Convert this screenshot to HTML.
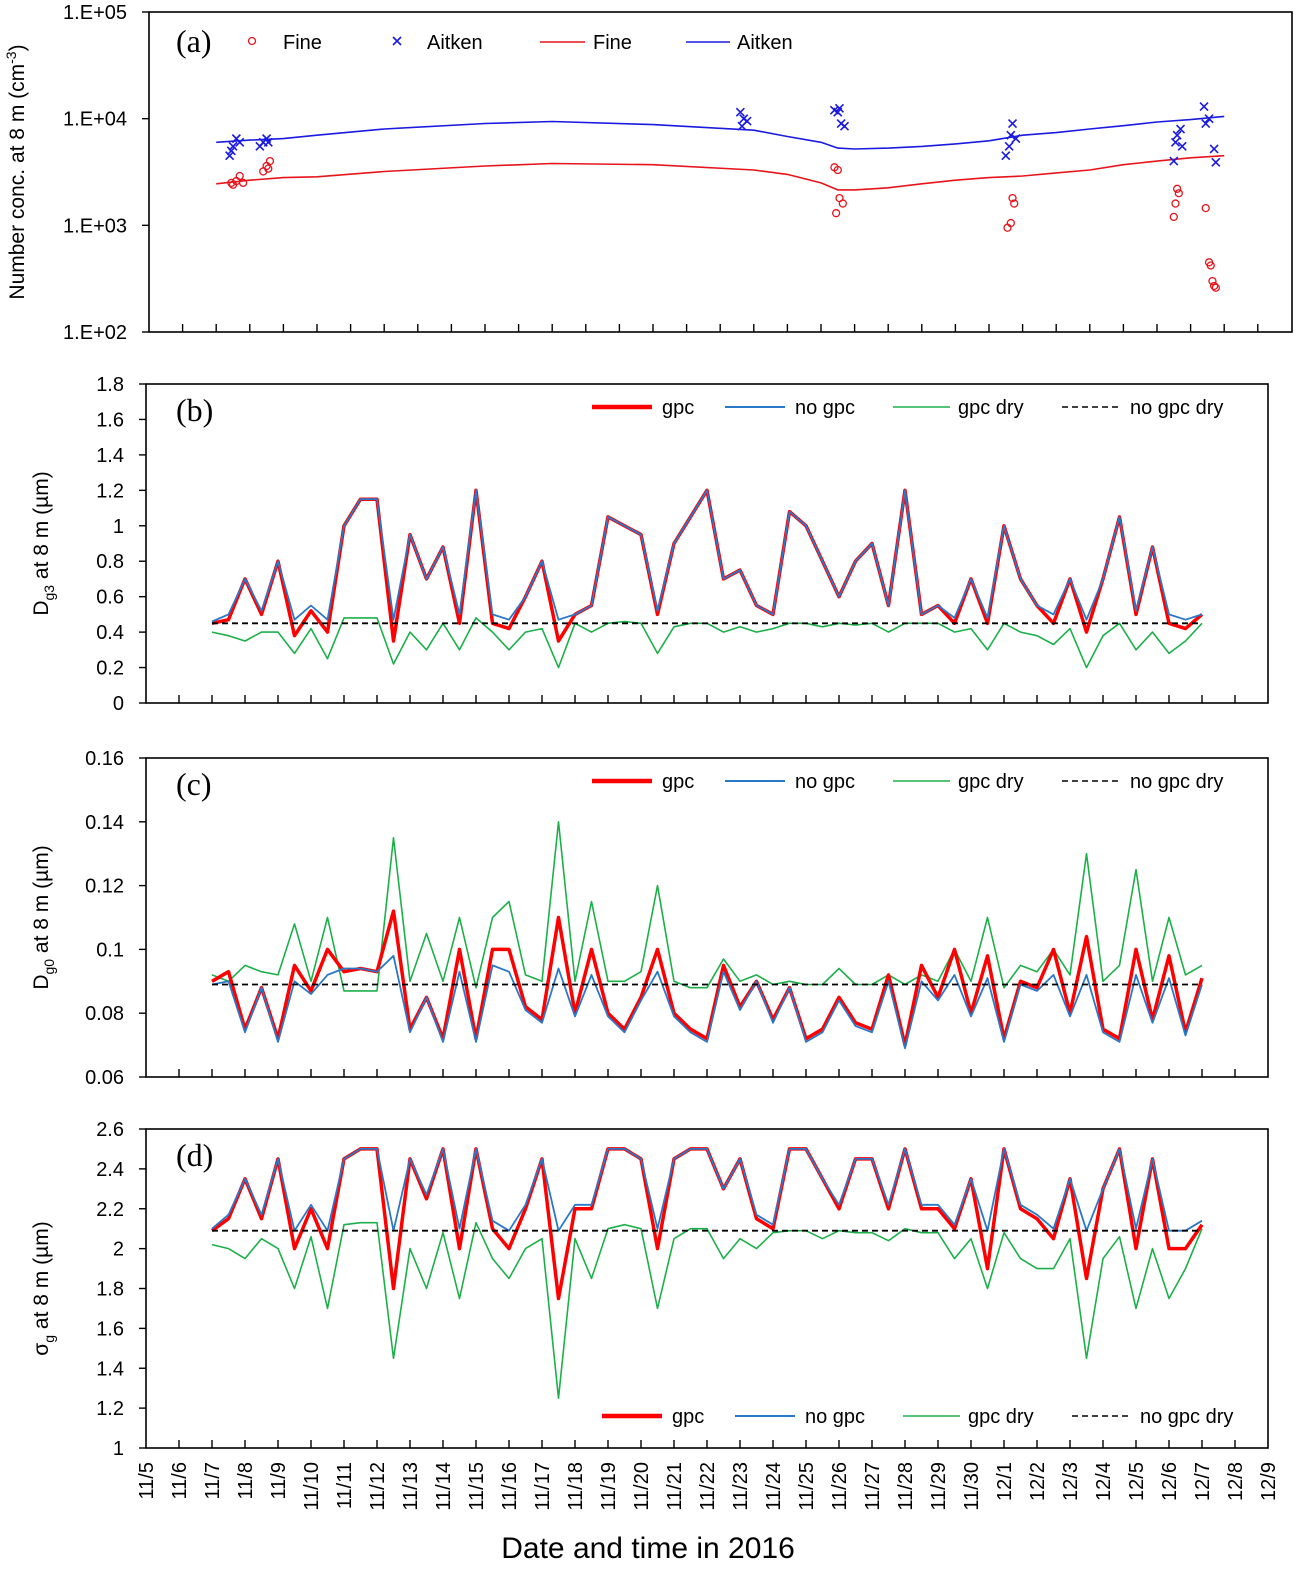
<!DOCTYPE html>
<html><head><meta charset="utf-8"><style>
body{margin:0;background:#fff;}
svg text{font-family:"Liberation Sans",sans-serif;fill:#000;}
</style></head><body>
<svg id="chart" width="1296" height="1568" viewBox="0 0 1296 1568" xmlns="http://www.w3.org/2000/svg"></svg>
<script>
// ---------- data ----------
const tGrid=[0,0.5,1,1.5,2,2.5,3,3.5,4,4.5,5,5.5,6,6.5,7,7.5,8,8.5,9,9.5,10,10.5,11,11.5,12,12.5,13,13.5,14,14.5,15,15.5,16,16.5,17,17.5,18,18.5,19,19.5,20,20.5,21,21.5,22,22.5,23,23.5,24,24.5,25,25.5,26,26.5,27,27.5,28,28.5,29,29.5,30];
const xDates=["11/5","11/6","11/7","11/8","11/9","11/10","11/11","11/12","11/13","11/14","11/15","11/16","11/17","11/18","11/19","11/20","11/21","11/22","11/23","11/24","11/25","11/26","11/27","11/28","11/29","11/30","12/1","12/2","12/3","12/4","12/5","12/6","12/7","12/8","12/9"];
// panel a
const aLineT=[0,1,2,3,5,8,10,13,16,17,18,18.5,19,20,21,22,23,24,25,26,27,28,29,30];
const aFine=[2450,2650,2800,2850,3200,3600,3800,3700,3300,3000,2500,2150,2150,2250,2450,2650,2800,2900,3100,3300,3700,4000,4300,4500];
const aAitken=[6000,6300,6500,7000,8000,9000,9400,8800,7800,6800,6000,5300,5200,5300,5500,5800,6200,7000,7400,8000,8600,9300,9800,10500];
const fineObsT=[0.45,0.5,0.6,0.7,0.8,1.4,1.5,1.55,1.6,18.4,18.5,18.45,18.55,18.65,23.55,23.65,23.7,23.75,28.5,28.55,28.6,28.65,29.45,29.55,29.6,29.65,29.7,29.75];
const fineObs=[2500,2400,2600,2900,2500,3200,3600,3400,4000,3500,3300,1300,1800,1600,950,1050,1800,1600,1200,1600,2200,2000,1450,450,420,300,270,260];
const aitObsT=[0.4,0.45,0.5,0.6,0.7,1.3,1.4,1.5,1.55,15.6,15.7,15.8,15.65,18.4,18.5,18.55,18.6,18.7,23.5,23.6,23.65,23.7,23.8,28.5,28.55,28.6,28.7,28.75,29.4,29.45,29.55,29.7,29.75];
const aitObs=[4500,5000,5500,6500,6000,5500,6000,6500,6000,11500,10000,9500,8500,12000,11500,12500,9000,8500,4500,5500,7000,9000,6500,4000,6000,7000,8000,5500,13000,9000,10000,5200,3900];
// panel b
const bGpc=[0.45,0.47,0.7,0.5,0.8,0.38,0.52,0.4,1.0,1.15,1.15,0.35,0.95,0.7,0.88,0.45,1.2,0.45,0.42,0.6,0.8,0.35,0.5,0.55,1.05,1.0,0.95,0.5,0.9,1.05,1.2,0.7,0.75,0.55,0.5,1.08,1.0,0.8,0.6,0.8,0.9,0.55,1.2,0.5,0.55,0.45,0.7,0.45,1.0,0.7,0.55,0.45,0.7,0.4,0.7,1.05,0.5,0.88,0.45,0.42,0.5];
const bNoGpc=[0.46,0.5,0.7,0.52,0.8,0.47,0.55,0.47,1.0,1.15,1.15,0.47,0.95,0.7,0.88,0.5,1.2,0.5,0.47,0.6,0.8,0.47,0.5,0.55,1.05,1.0,0.95,0.52,0.9,1.05,1.2,0.7,0.75,0.55,0.5,1.08,1.0,0.8,0.6,0.8,0.9,0.55,1.2,0.5,0.55,0.48,0.7,0.48,1.0,0.7,0.55,0.5,0.7,0.47,0.7,1.05,0.52,0.88,0.5,0.47,0.5];
const bDry=[0.4,0.38,0.35,0.4,0.4,0.28,0.42,0.25,0.48,0.48,0.48,0.22,0.4,0.3,0.45,0.3,0.48,0.4,0.3,0.4,0.42,0.2,0.45,0.4,0.45,0.46,0.45,0.28,0.43,0.45,0.45,0.4,0.43,0.4,0.42,0.45,0.45,0.43,0.45,0.44,0.45,0.4,0.45,0.45,0.45,0.4,0.42,0.3,0.45,0.4,0.38,0.33,0.42,0.2,0.38,0.45,0.3,0.4,0.28,0.35,0.45];
const flatT=[0,30];
const bNoGpcDry=[0.45,0.45];
// panel c
const cGpc=[0.09,0.093,0.075,0.088,0.072,0.095,0.087,0.1,0.093,0.094,0.093,0.112,0.075,0.085,0.072,0.1,0.072,0.1,0.1,0.082,0.078,0.11,0.08,0.1,0.08,0.075,0.085,0.1,0.08,0.075,0.072,0.095,0.082,0.09,0.078,0.088,0.072,0.075,0.085,0.077,0.075,0.092,0.07,0.095,0.085,0.1,0.08,0.098,0.072,0.09,0.088,0.1,0.08,0.104,0.075,0.072,0.1,0.078,0.098,0.074,0.091];
const cNoGpc=[0.089,0.09,0.074,0.088,0.071,0.09,0.086,0.092,0.094,0.094,0.093,0.098,0.074,0.085,0.071,0.093,0.071,0.095,0.093,0.081,0.077,0.094,0.079,0.092,0.079,0.074,0.084,0.093,0.079,0.074,0.071,0.093,0.081,0.09,0.077,0.088,0.071,0.074,0.084,0.076,0.074,0.09,0.069,0.09,0.084,0.092,0.079,0.091,0.071,0.089,0.087,0.092,0.079,0.092,0.074,0.071,0.092,0.077,0.091,0.073,0.089];
const cDry=[0.092,0.09,0.095,0.093,0.092,0.108,0.09,0.11,0.087,0.087,0.087,0.135,0.09,0.105,0.09,0.11,0.088,0.11,0.115,0.092,0.09,0.14,0.09,0.115,0.09,0.09,0.093,0.12,0.09,0.088,0.088,0.097,0.09,0.092,0.089,0.09,0.089,0.089,0.094,0.089,0.089,0.092,0.089,0.092,0.09,0.1,0.09,0.11,0.088,0.095,0.093,0.1,0.092,0.13,0.09,0.095,0.125,0.09,0.11,0.092,0.095];
const cNoGpcDry=[0.089,0.089];
// panel d
const dGpc=[2.09,2.15,2.35,2.15,2.45,2.0,2.2,2.0,2.45,2.5,2.5,1.8,2.45,2.25,2.5,2.0,2.5,2.1,2.0,2.2,2.45,1.75,2.2,2.2,2.5,2.5,2.45,2.0,2.45,2.5,2.5,2.3,2.45,2.15,2.1,2.5,2.5,2.35,2.2,2.45,2.45,2.2,2.5,2.2,2.2,2.1,2.35,1.9,2.5,2.2,2.15,2.05,2.35,1.85,2.3,2.5,2.0,2.45,2.0,2.0,2.12];
const dNoGpc=[2.1,2.17,2.35,2.17,2.45,2.09,2.22,2.09,2.45,2.5,2.5,2.09,2.45,2.27,2.5,2.1,2.5,2.14,2.09,2.22,2.45,2.09,2.22,2.22,2.5,2.5,2.45,2.1,2.45,2.5,2.5,2.3,2.45,2.17,2.12,2.5,2.5,2.35,2.22,2.45,2.45,2.22,2.5,2.22,2.22,2.12,2.35,2.09,2.5,2.22,2.17,2.1,2.35,2.09,2.3,2.5,2.1,2.45,2.09,2.09,2.14];
const dDry=[2.02,2.0,1.95,2.05,2.0,1.8,2.06,1.7,2.12,2.13,2.13,1.45,2.0,1.8,2.08,1.75,2.13,1.95,1.85,2.0,2.05,1.25,2.05,1.85,2.1,2.12,2.1,1.7,2.05,2.1,2.1,1.95,2.05,2.0,2.08,2.09,2.09,2.05,2.09,2.08,2.08,2.04,2.1,2.08,2.08,1.95,2.05,1.8,2.08,1.95,1.9,1.9,2.05,1.45,1.95,2.06,1.7,2.0,1.75,1.9,2.1];
const dNoGpcDry=[2.09,2.09];
const bTicks=[0,0.2,0.4,0.6,0.8,1,1.2,1.4,1.6,1.8];
const cTicks=[0.06,0.08,0.1,0.12,0.14,0.16];
const dTicks=[1,1.2,1.4,1.6,1.8,2,2.2,2.4,2.6];
const aTicks=[100,1000,10000,100000];
const aTickLabels=["1.E+02","1.E+03","1.E+04","1.E+05"];

// ---------- drawing ----------
const NS="http://www.w3.org/2000/svg";
const svg=document.getElementById('chart');
function mk(tag,attrs,parent){const e=document.createElementNS(NS,tag);for(const k in attrs)e.setAttribute(k,attrs[k]);(parent||svg).appendChild(e);return e;}
function txt(s,attrs,parent){const e=mk('text',attrs,parent);e.textContent=s;return e;}

// x scales (t = days since 11/7)
const xB=t=>212+33*t;
const xA=t=>216.2+33.6*t;

function panel(name,L,R,T,B,yMin,yMax,ticks,labels,nDays,xl,xstep){
  const g=mk('g',{});
  
  
  const box=mk('rect',{x:L,y:T,width:R-L,height:B-T,fill:'none',stroke:'#000','stroke-width':1.6},g);
  
  
  const ys=v=>B-(v-yMin)/(yMax-yMin)*(B-T);
  ticks.forEach((v,i)=>{
    const y=ys(v);
    mk('line',{x1:L-7,x2:L,y1:y,y2:y,stroke:'#000','stroke-width':1.4},g);
    const lab=txt(labels[i],{x:L-22,y:y+7,'text-anchor':'end','font-size':20},g);
    
    
  });
  for(let k=1;k<nDays;k++){
    const x=xl+xstep*k;
    if(x>R-2)break;
    mk('line',{x1:x,x2:x,y1:B,y2:B-8,stroke:'#000','stroke-width':1.4},g);
  }
  return {g,ys};
}
function line(g,xs,ys,T,V,color,w,dash,name){
  let d='';
  T.forEach((t,i)=>{d+=(i?'L':'M')+xs(t).toFixed(1)+','+ys(V[i]).toFixed(1);});
  const p=mk('path',{d,fill:'none',stroke:color,'stroke-width':w,'stroke-linejoin':'round'},g);
  if(dash)p.setAttribute('stroke-dasharray',dash);
  
  
}
function legend(g,items,y){
  items.forEach(it=>{
    const l=mk('line',{x1:it.x1,x2:it.x2,y1:y,y2:y,stroke:it.c,'stroke-width':it.w},g);
    if(it.dash)l.setAttribute('stroke-dasharray',it.dash);
    
    
    const t=txt(it.label,{x:it.tx,y:y+7,'font-size':20},g);
    
    
  });
}
function panelLabel(g,s,x,y){
  const t=txt(s,{x,y,'font-size':32,'font-family':'Liberation Serif, serif'},g);
  t.style.fontFamily='"Liberation Serif",serif';
  
  
}
function ytitle(g,parts,x,y){
  const t=mk('text',{transform:`translate(${x},${y}) rotate(-90)`,'text-anchor':'middle','font-size':21},g);
  parts.forEach(p=>{const s=mk('tspan',p.sub?{'font-size':14,dy:p.dy}:(p.dy?{dy:p.dy}:{}),t);s.textContent=p.s;});
  
  
}

// Panel a (log)
{
  const L=149,R=1292,T=12,B=332;
  const lg=v=>Math.log10(v);
  const p=panel('panel-a',L,R,T,B,2,5,aTicks.map(lg),aTickLabels,34,149,33.6);
  const ys=v=>p.ys(lg(v));
  line(p.g,xA,ys,aLineT,aFine,'#e8141b',1.6,null,'fine-model-line');
  line(p.g,xA,ys,aLineT,aAitken,'#1a1ae0',1.6,null,'aitken-model-line');
  fineObsT.forEach((t,i)=>{
    const c=mk('circle',{cx:xA(t),cy:ys(fineObs[i]),r:3.5,fill:'none',stroke:'#e8141b','stroke-width':1.3},p.g);
    
    
  });
  aitObsT.forEach((t,i)=>{
    const x=xA(t),y=ys(aitObs[i]);
    const m=mk('path',{d:`M${x-4},${y-4}L${x+4},${y+4}M${x-4},${y+4}L${x+4},${y-4}`,stroke:'#1a1ae0','stroke-width':1.6},p.g);
    
    
  });
  panelLabel(p.g,'(a)',176,52);
  const lc=mk('circle',{cx:252,cy:41,r:3.5,fill:'none',stroke:'#e8141b','stroke-width':1.3},p.g);
  
  let t=txt('Fine',{x:283,y:49,'font-size':20},p.g);
  const lx=mk('path',{d:'M393,37L401,45M393,45L401,37',stroke:'#1a1ae0','stroke-width':1.6},p.g);
  
  t=txt('Aitken',{x:427,y:49,'font-size':20},p.g);
  legend(p.g,[{x1:540,x2:585,c:'#e8141b',w:1.6,label:'Fine',tx:593},{x1:686,x2:730,c:'#1a1ae0',w:1.6,label:'Aitken',tx:737}],42);
  ytitle(p.g,[{s:'Number conc. at 8 m (cm'},{s:'-3',sub:true,dy:-8},{s:')',dy:8}],24,172);
}
const stdLeg=(dy,off)=>[
  {x1:592+off,x2:652+off,c:'#ff0000',w:4.5,label:'gpc',tx:662+off},
  {x1:725+off,x2:785+off,c:'#2a78c8',w:2,label:'no gpc',tx:795+off},
  {x1:893+off,x2:950+off,c:'#1db04a',w:1.6,label:'gpc dry',tx:958+off},
  {x1:1062+off,x2:1120+off,c:'#000',w:1.6,dash:'6,4',label:'no gpc dry',tx:1130+off}];
function seriesPanel(name,T,B,yMin,yMax,ticks,labels,gpc,nog,dry,nogd,lab,legY,legOff,title){
  const p=panel(name,146,1268,T,B,yMin,yMax,ticks,labels,34,146,33);
  line(p.g,xB,p.ys,tGrid,dry,'#1db04a',1.6,null,'gpc-dry-line');
  line(p.g,xB,p.ys,tGrid,gpc,'#ff0000',3.5,null,'gpc-line');
  line(p.g,xB,p.ys,tGrid,nog,'#2a78c8',1.8,null,'no-gpc-line');
  line(p.g,xB,p.ys,flatT,nogd,'#000',1.8,'6,4','no-gpc-dry-line');
  panelLabel(p.g,lab,176,T+37);
  legend(p.g,stdLeg(0,legOff),legY);
  ytitle(p.g,title,48,(T+B)/2);
  return p;
}
seriesPanel('panel-b',384,703,0,1.8,bTicks,bTicks.map(v=>String(+v.toFixed(1))),bGpc,bNoGpc,bDry,bNoGpcDry,'(b)',407,0,
  [{s:'D'},{s:'g3',sub:true,dy:6},{s:' at 8 m (µm)',dy:-6}]);
seriesPanel('panel-c',758,1077,0.06,0.16,cTicks,cTicks.map(v=>String(+v.toFixed(2))),cGpc,cNoGpc,cDry,cNoGpcDry,'(c)',781,0,
  [{s:'D'},{s:'g0',sub:true,dy:6},{s:' at 8 m (µm)',dy:-6}]);
const pd=seriesPanel('panel-d',1129,1448,1,2.6,dTicks,dTicks.map(v=>String(+v.toFixed(1))),dGpc,dNoGpc,dDry,dNoGpcDry,'(d)',1416,10,
  [{s:'σ'},{s:'g',sub:true,dy:6},{s:' at 8 m (µm)',dy:-6}]);
// x tick labels
xDates.forEach((s,k)=>{
  const x=146+33*k;
  const t=txt(s,{transform:`translate(${x+7},1462) rotate(-90)`,'text-anchor':'end','font-size':20});
  
  
});
const xt=txt('Date and time in 2016',{x:648,y:1558,'text-anchor':'middle','font-size':30});


</script>
</body></html>
